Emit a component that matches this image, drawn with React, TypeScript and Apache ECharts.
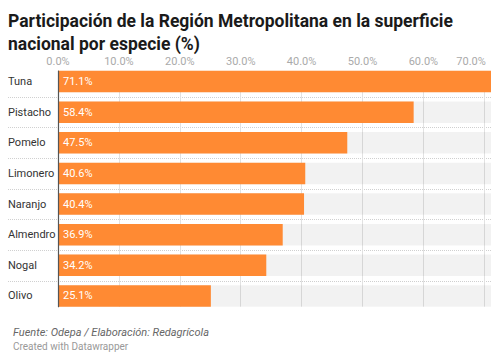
import React, { useEffect, useRef } from "react";
import * as echarts from "echarts";

const categories = ["Tuna", "Pistacho", "Pomelo", "Limonero", "Naranjo", "Almendro", "Nogal", "Olivo"];
const values = [71.1, 58.4, 47.5, 40.6, 40.4, 36.9, 34.2, 25.1];
const xTicks = [0, 10, 20, 30, 40, 50, 60, 70];
const titleText = "Participación de la Región Metropolitana en la superficie\nnacional por especie (%)";
const sourceText = "Fuente: Odepa / Elaboración: Redagrícola";
const creditText = "Created with Datawrapper";

export default function App() {
  const ref = useRef<HTMLDivElement>(null);
  useEffect(() => {
    if (!ref.current) return;
    const chart = echarts.init(ref.current, undefined, { renderer: "svg" });
    const xMax = Math.max(...values);
    const tickMax = xTicks[xTicks.length - 1];
    chart.setOption({
      animation: false,
      backgroundColor: "#ffffff",
      textStyle: { fontFamily: "Roboto" },
      title: [
        {
          text: titleText,
          left: 8,
          top: 9,
          padding: 0,
          textStyle: { fontSize: 17.5, fontWeight: "bold", color: "#1a1a1a", lineHeight: 23, fontFamily: "Roboto" },
        },
        {
          text: sourceText,
          left: 8,
          top: 322,
          textStyle: { fontSize: 11, fontStyle: "italic", fontWeight: "normal", color: "#666", fontFamily: "Roboto" },
        },
        {
          text: creditText,
          left: 8,
          top: 336,
          textStyle: { fontSize: 10, fontWeight: "normal", color: "#999", fontFamily: "Roboto" },
        },
      ],
      grid: [
        { left: 58, right: 9, top: 66.2, bottom: 45.7, outerBoundsMode: "none", containLabel: false },
        { left: 58, right: 9, top: 71, bottom: 50.3, outerBoundsMode: "none", containLabel: false },
        { left: 8, right: 9, top: 96.8, bottom: 76.2, outerBoundsMode: "none", containLabel: false },
      ],
      xAxis: [
        { gridIndex: 0, type: "value", min: 0, max: xMax, show: false },
        {
          gridIndex: 1,
          type: "value",
          min: 0,
          max: xMax,
          interval: 10,
          position: "top",
          axisLine: { show: false },
          axisTick: { show: false },
          axisLabel: {
            show: true,
            showMaxLabel: false,
            margin: 4,
            fontSize: 11,
            lineHeight: 11,
            color: "#aaa",
            formatter: (v: number) =>
              v === tickMax ? `{r|${v.toFixed(1)}%}` : xTicks.includes(v) ? `${v.toFixed(1)}%` : "",
            rich: { r: { width: 56, align: "left", fontSize: 11, lineHeight: 11, color: "#aaa" } },
          },
          splitLine: { show: true, showMaxLine: false, lineStyle: { color: "#e2e2e2", width: 1 } },
        },
        { gridIndex: 2, type: "value", min: 0, max: 1, show: false },
      ],
      yAxis: [
        {
          gridIndex: 0,
          type: "category",
          data: categories,
          inverse: true,
          axisLine: { show: false },
          axisTick: { show: false },
          splitLine: { show: false },
          axisLabel: { align: "left", margin: 50, fontSize: 11, color: "#333" },
        },
        {
          gridIndex: 1,
          type: "value",
          min: 0,
          max: 1,
          z: 10,
          axisLine: { show: true, lineStyle: { color: "#555", width: 1.2 } },
          axisTick: { show: false },
          axisLabel: { show: false },
          splitLine: { show: false },
        },
        {
          gridIndex: 2,
          type: "value",
          min: 0,
          max: categories.length - 2,
          interval: 1,
          axisLine: { show: false },
          axisTick: { show: false },
          axisLabel: { show: false },
          splitLine: { show: true, lineStyle: { color: "#d0d0d0", type: "dotted", width: 1 } },
        },
      ],
      series: [
        {
          type: "bar",
          xAxisIndex: 0,
          yAxisIndex: 0,
          data: values,
          barWidth: 21.5,
          itemStyle: { color: "#ff8a33" },
          showBackground: true,
          backgroundStyle: { color: "rgba(0,0,0,0.05)" },
          label: {
            show: true,
            position: "insideLeft",
            distance: 5,
            color: "#ffffff",
            fontSize: 11,
            formatter: (p: any) => `${Number(p.value).toFixed(1)}%`,
          },
        },
      ],
    });
    return () => chart.dispose();
  }, []);
  return <div ref={ref} style={{ position: "fixed", left: 0, top: 0, width: 500, height: 357 }} />;
}
